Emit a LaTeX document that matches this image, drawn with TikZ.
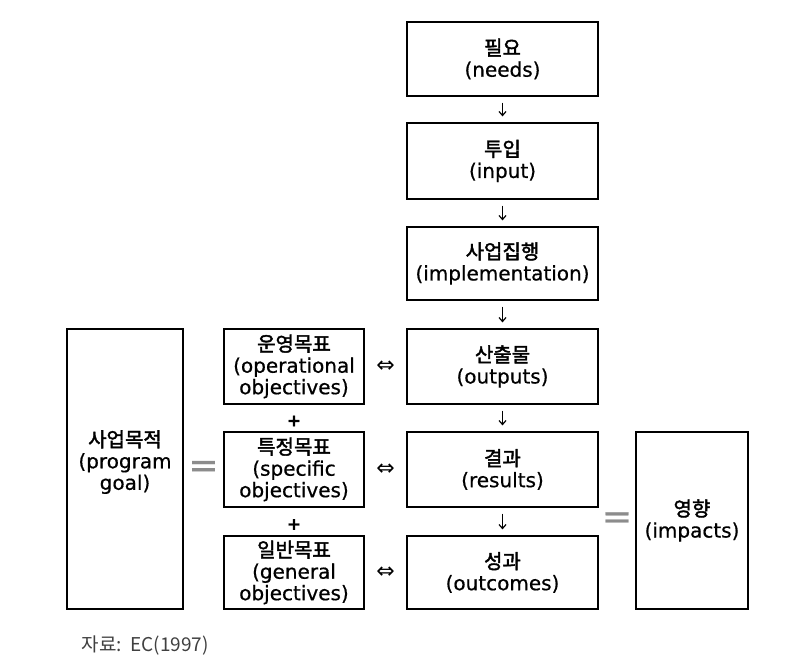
\documentclass[tikz,border=0pt]{standalone}
\usepackage{fontspec}
\setmainfont{DejaVu Sans}[FakeBold=0.6]
\newfontfamily\kr[AutoFakeBold=2]{Noto Sans CJK KR}
\newfontfamily\symfont{DejaVu Sans}
\usetikzlibrary{arrows.meta}

\begin{document}
\begin{tikzpicture}[x=1pt,y=-1pt,
    box/.style={draw,line width=1.2pt,align=center,inner sep=0pt,
      font=\fontsize{20}{21.5}\selectfont},
    flow/.style={-{Straight Barb[length=4pt,width=7pt]},line width=1.2pt,shorten >=6pt,shorten <=6pt},
    sym/.style={font=\symfont\fontsize{22}{22}\selectfont},
    plus/.style={font=\bfseries\fontsize{17}{17}\selectfont,yshift=-3pt},
    eqsign/.style={text=black!45,font=\fontsize{36}{36}\selectfont}]
  \useasboundingbox (0,0) rectangle (791,666);
  % main chain
  \node[box,minimum width=191pt,minimum height=74pt] (needs) at (502.5,59) {{\kr\bfseries 필요}\\(needs)};
  \node[box,minimum width=191pt,minimum height=76pt] (input) at (502.5,161) {{\kr\bfseries 투입}\\(input)};
  \node[box,minimum width=191pt,minimum height=73pt] (impl) at (502.5,263.5) {{\kr\bfseries 사업집행}\\(implementation)};
  \node[box,minimum width=191pt,minimum height=75pt] (outputs) at (502.5,366.5) {{\kr\bfseries 산출물}\\(outputs)};
  \node[box,minimum width=191pt,minimum height=75pt] (results) at (502.5,469.5) {{\kr\bfseries 결과}\\(results)};
  \node[box,minimum width=191pt,minimum height=73pt] (outcomes) at (502.5,572.5) {{\kr\bfseries 성과}\\(outcomes)};
  \node[box,minimum width=112pt,minimum height=177pt] (impacts) at (692,520.5) {{\kr\bfseries 영향}\\(impacts)};
  % objectives
  \node[box,minimum width=140pt,minimum height=75pt] (opobj) at (294,366.5) {{\kr\bfseries 운영목표}\\(operational\\objectives)};
  \node[box,minimum width=140pt,minimum height=75pt] (specobj) at (294,469.5) {{\kr\bfseries 특정목표}\\(specific\\objectives)};
  \node[box,minimum width=140pt,minimum height=73pt] (genobj) at (294,572.5) {{\kr\bfseries 일반목표}\\(general\\objectives)};
  \node[box,minimum width=116pt,minimum height=280pt,text depth=18pt] (goal) at (125,469) {{\kr\bfseries 사업목적}\\(program\\goal)};

  \draw[flow] (needs) -- (input);
  \draw[flow] (input) -- (impl);
  \draw[flow] (impl) -- (outputs);
  \draw[flow] (outputs) -- (results);
  \draw[flow] (results) -- (outcomes);

  \path (opobj) -- node[sym] {⇔} (outputs);
  \path (specobj) -- node[sym] {⇔} (results);
  \path (genobj) -- node[sym] {⇔} (outcomes);
  \path (opobj) -- node[plus] {+} (specobj);
  \path (specobj) -- node[plus] {+} (genobj);
  \path (goal) -- node[eqsign] {=} (specobj);
  \path (impacts.west) -- node[eqsign] {=} (impacts.west -| results.east);

  \node[anchor=west,text=black!75,font=\kr\fontsize{19}{19}\selectfont] (source) at (78,645) {자료:\ \ EC(1997)};
\end{tikzpicture}
\end{document}
